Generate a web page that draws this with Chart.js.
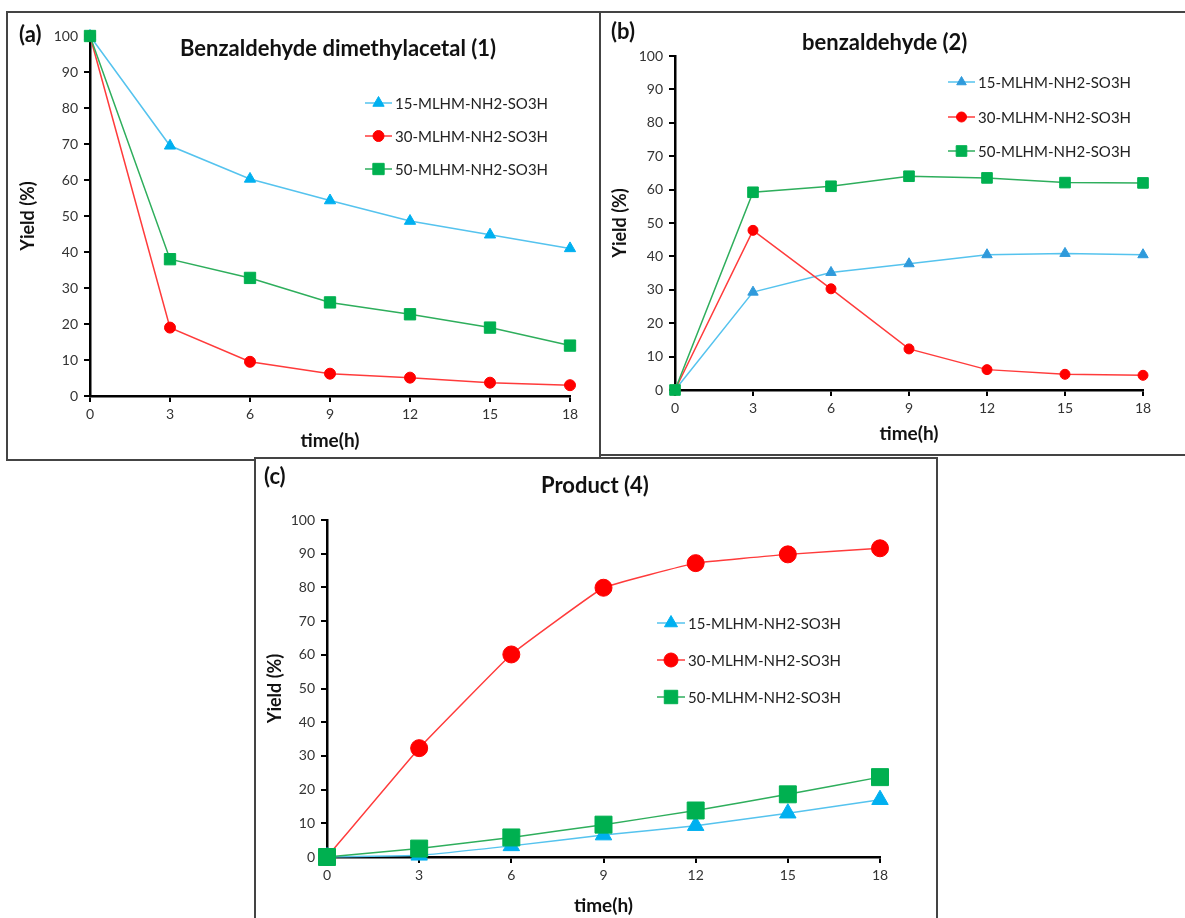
<!DOCTYPE html>
<html>
<head>
<meta charset="utf-8">
<script src="https://cdn.jsdelivr.net/npm/chart.js@4.4.1/dist/chart.umd.min.js"></script>
<style>
body { margin:0; background:#fff; width:1185px; height:918px; position:relative; overflow:hidden; font-family: Lato, sans-serif; }
.box { position:absolute; background:#fff; outline:2px solid #444; outline-offset:-1px; }
.txt { position:absolute; font-weight:bold; color:#111; white-space:nowrap; font-family: Lato, sans-serif; line-height:1.2; }
</style>
</head>
<body>

<div class="box" style="left:7px; top:12px; width:593px; height:448px;"><canvas id="chartA"></canvas></div>
<div class="box" style="left:600px; top:12px; width:590px; height:443px;"><canvas id="chartB"></canvas></div>
<div class="box" style="left:255px; top:458px; width:682px; height:470px;"><canvas id="chartC"></canvas></div>

<div class="txt" style="left:19px; top:21px; font-size:22px;">(a)</div>
<div class="txt" style="left:611px; top:18px; font-size:22px;">(b)</div>
<div class="txt" style="left:264px; top:463px; font-size:22px;">(c)</div>
<div class="txt" style="left:180px; top:35px; font-size:22px;">Benzaldehyde dimethylacetal (1)</div>
<div class="txt" style="left:802px; top:29px; font-size:22px;">benzaldehyde (2)</div>
<div class="txt" style="left:541px; top:472px; font-size:22px;">Product (4)</div>

<script>
// time points (h)
const hours = [0, 3, 6, 9, 12, 15, 18];
const seriesNames = ['15-MLHM-NH2-SO3H', '30-MLHM-NH2-SO3H', '50-MLHM-NH2-SO3H'];

// (a) Benzaldehyde dimethylacetal (1)
const acetal15 = [100, 69.5, 60.3, 54.3, 48.6, 44.8, 41];
const acetal30 = [100, 19, 9.5, 6.2, 5.1, 3.7, 3];
const acetal50 = [100, 38, 32.8, 26, 22.7, 19, 14];

// (b) benzaldehyde (2)
const aldehyde15 = [0, 29.3, 35.2, 37.8, 40.5, 40.9, 40.5];
const aldehyde30 = [0, 47.8, 30.3, 12.3, 6.1, 4.7, 4.4];
const aldehyde50 = [0, 59.2, 61, 64, 63.5, 62.1, 62];

// (c) Product (4)
const product15 = [0, 0.5, 3.3, 6.5, 9.3, 13, 17];
const product30 = [0, 32.3, 60.1, 79.9, 87.2, 89.8, 91.6];
const product50 = [0, 2.5, 5.8, 9.6, 13.8, 18.6, 23.7];

const yTicks = { min: 0, max: 100, step: 10 };
const xTicks = { min: 0, max: 18, step: 3 };

// legend drawn inside the plot like in the excel figure
const inlineLegend = {
    id: 'inlineLegend',
    afterDraw(chart, args, opts) {
        const ctx = chart.ctx;
        ctx.save();
        chart.data.datasets.forEach((ds, i) => {
            const y = opts.y[i];
            ctx.strokeStyle = ds.borderColor;
            ctx.lineWidth = ds.borderWidth;
            ctx.beginPath();
            ctx.moveTo(opts.x, y);
            ctx.lineTo(opts.x + opts.len, y);
            ctx.stroke();
            ctx.fillStyle = ds.pointBackgroundColor;
            ctx.strokeStyle = ds.pointBorderColor;
            ctx.lineWidth = 1;
            Chart.helpers.drawPoint(ctx, { pointStyle: ds.pointStyle, radius: opts.r[i], borderWidth: 1, rotation: 0 }, opts.x + opts.len / 2, y);
            ctx.fillStyle = '#222';
            ctx.font = '15px Lato, sans-serif';
            ctx.textBaseline = 'middle';
            ctx.textAlign = 'left';
            ctx.fillText(ds.label, opts.x + opts.len + 3, y + 1);
        });
        ctx.restore();
    }
};

function pairs(values) {
    return values.map((v, i) => ({ x: hours[i], y: v }));
}

function makeChart(id, values, sizes, blue, geo) {
    const styles = [
        { line: '#55C3EE', fill: blue, shape: 'triangle', order: 2 },
        { line: '#FF3B3B', fill: '#FF0000', shape: 'circle', order: 1 },
        { line: '#2EAE5C', fill: '#00B050', shape: 'rect', order: 0 }
    ];
    return new Chart(document.getElementById(id), {
        type: 'line',
        data: {
            datasets: values.map((vals, i) => ({
                label: seriesNames[i],
                data: pairs(vals),
                borderColor: styles[i].line,
                borderWidth: 1.5,
                pointStyle: styles[i].shape,
                pointRadius: sizes[i],
                pointBackgroundColor: styles[i].fill,
                pointBorderColor: styles[i].fill,
                pointBorderWidth: 1,
                order: styles[i].order,
                tension: geo.tension,
                clip: false
            }))
        },
        options: {
            responsive: true,
            maintainAspectRatio: false,
            animation: false,
            layout: { padding: { left: 0, top: geo.top, right: geo.right, bottom: 0 } },
            plugins: {
                legend: { display: false },
                tooltip: { enabled: false },
                inlineLegend: geo.legend
            },
            scales: {
                x: {
                    type: 'linear',
                    min: xTicks.min,
                    max: xTicks.max,
                    afterFit: (s) => { s.height = geo.xh; },
                    ticks: { stepSize: xTicks.step, color: '#333', font: { size: 14, family: 'Lato' }, padding: 4 },
                    grid: { drawOnChartArea: false, drawTicks: true, tickLength: 6, color: '#000', lineWidth: 2 },
                    border: { display: true, color: '#000', width: 2.5 },
                    title: { display: true, text: 'time(h)', color: '#111', font: { size: 19, weight: 'bold', family: 'Lato' }, padding: { top: 0, bottom: geo.xpad } }
                },
                y: {
                    min: yTicks.min,
                    max: yTicks.max,
                    afterFit: (s) => { s.width = geo.yw; },
                    ticks: { stepSize: yTicks.step, color: '#333', font: { size: 14, family: 'Lato' }, padding: 6 },
                    grid: { drawOnChartArea: false, drawTicks: true, tickLength: 6, color: '#000', lineWidth: 2 },
                    border: { display: true, color: '#000', width: 2.5 },
                    title: { display: true, text: 'Yield (%)', color: '#111', font: { size: 18, weight: 'bold', family: 'Lato' }, padding: { top: geo.ypad, bottom: 0 } }
                }
            }
        },
        plugins: [inlineLegend]
    });
}

makeChart('chartA', [acetal15, acetal30, acetal50], [6.5, 5.5, 8], '#00B0F0', {
    top: 24, right: 30, yw: 83, xh: 64, xpad: 8, ypad: 10, tension: 0,
    legend: { x: 358, len: 27, y: [91, 124, 157], r: [6.5, 5.5, 8] }
});

makeChart('chartB', [aldehyde15, aldehyde30, aldehyde50], [6, 5, 7.5], '#2F9ADB', {
    top: 44, right: 47, yw: 75, xh: 65, xpad: 10, ypad: 9, tension: 0,
    legend: { x: 348, len: 27, y: [70, 105, 139], r: [5.5, 5, 7.5] }
});

makeChart('chartC', [product15, product30, product50], [9.5, 8.5, 12], '#00B0F0', {
    top: 62, right: 57, yw: 72, xh: 71, xpad: 11, ypad: 9, tension: 0.08,
    legend: { x: 402, len: 28, y: [165, 202, 239], r: [7.5, 7, 9.5] }
});
</script>
</body>
</html>
